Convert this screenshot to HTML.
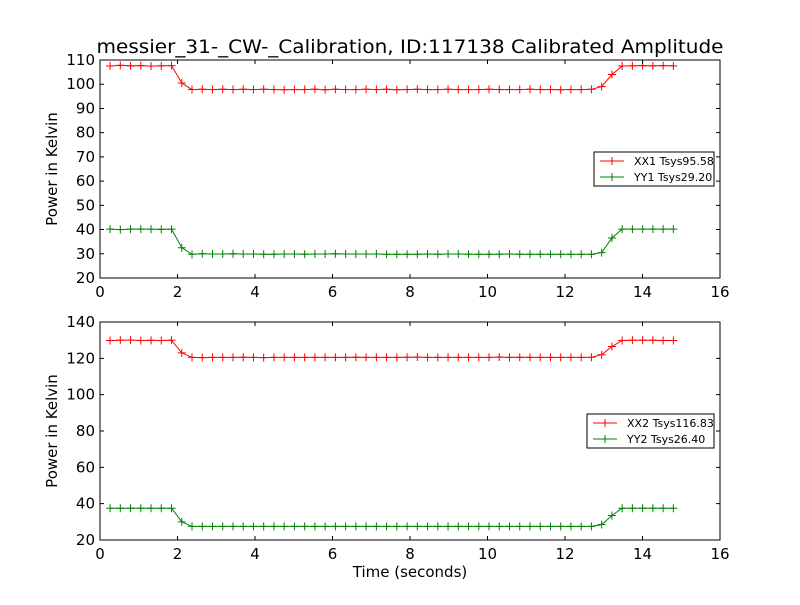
<!DOCTYPE html>
<html><head><meta charset="utf-8"><style>
body{margin:0;background:#fff;font-family:"Liberation Sans","DejaVu Sans",sans-serif}
svg text{font-family:"DejaVu Sans","Liberation Sans",sans-serif}
</style></head><body>
<svg id="chart" width="800" height="600" viewBox="0 0 800 600"></svg>
<script>
const times=[];
const xTicks=[0,2,4,6,8,10,12,14,16];
const yTicksTop=[20,30,40,50,60,70,80,90,100,110];
const yTicksBot=[20,40,60,80,100,120,140];
const xx1=[107.5,107.8,107.6,107.7,107.5,107.6,107.7,100.5,97.8,97.9,97.8,97.9,97.8,97.9,97.8,97.9,97.8,97.7,97.8,97.8,97.9,97.7,97.9,97.8,97.8,97.9,97.8,97.9,97.7,97.8,97.9,97.8,97.8,97.9,97.8,97.8,97.8,97.9,97.8,97.8,97.8,97.9,97.8,97.8,97.7,97.8,97.8,97.9,99.0,104.0,107.5,107.6,107.7,107.6,107.7,107.6];
const yy1=[40.2,40.0,40.2,40.2,40.2,40.1,40.2,32.5,29.8,30.0,29.9,29.9,30.0,29.9,29.9,29.8,29.8,29.9,29.9,29.8,29.9,29.9,30.0,29.9,29.9,29.9,29.9,29.8,29.8,29.8,29.8,29.9,29.8,29.9,29.9,29.8,29.8,29.8,29.8,29.9,29.8,29.8,29.8,29.8,29.8,29.8,29.8,29.8,30.5,36.5,40.2,40.2,40.2,40.2,40.2,40.2];
const xx2=[129.8,130.0,130.1,129.8,129.9,129.8,130.0,123.0,120.5,120.4,120.5,120.5,120.5,120.6,120.5,120.4,120.5,120.5,120.5,120.5,120.5,120.5,120.5,120.5,120.6,120.5,120.5,120.5,120.5,120.6,120.7,120.5,120.5,120.5,120.5,120.5,120.5,120.5,120.7,120.5,120.6,120.5,120.5,120.5,120.5,120.5,120.5,120.6,122.0,126.5,129.8,130.0,130.0,130.0,129.8,129.8];
const yy2=[37.5,37.5,37.5,37.5,37.5,37.5,37.5,30.0,27.5,27.5,27.5,27.5,27.5,27.5,27.5,27.5,27.5,27.5,27.5,27.5,27.5,27.5,27.5,27.5,27.5,27.5,27.5,27.5,27.5,27.5,27.5,27.5,27.5,27.5,27.5,27.5,27.5,27.5,27.5,27.5,27.5,27.5,27.5,27.5,27.5,27.5,27.5,27.5,28.5,33.5,37.5,37.5,37.5,37.5,37.5,37.5];
for(let k=0;k<xx1.length;k++)times.push(+(0.26+0.2643*k).toFixed(3));

const NS="http://www.w3.org/2000/svg";
const svg=document.getElementById('chart');
function mk(tag,attrs,parent){const e=document.createElementNS(NS,tag);for(const k in attrs)e.setAttribute(k,attrs[k]);(parent||svg).appendChild(e);return e;}
const X0=100,X1=720;
const xs=v=>X0+(v-0)/16*(X1-X0);

function panel(name,top,bot,ymin,ymax,yTicks,series,legend){
  const g=mk('g',{});
  
  
  const ys=v=>bot-(v-ymin)/(ymax-ymin)*(bot-top);
  series.forEach(s=>{
    const sg=mk('g',{},g);
    
    
    const pts=s.vals.map((v,i)=>xs(times[i]).toFixed(1)+','+ys(v).toFixed(1)).join(' ');
    mk('polyline',{points:pts,fill:'none',stroke:s.color,'stroke-width':1},sg);
    s.vals.forEach((v,i)=>{
      const x=xs(times[i]),y=ys(v);
      const m=mk('path',{d:`M${x-4},${y}H${x+4}M${x},${y-4}V${y+4}`,stroke:s.color,'stroke-width':1},sg);
      
      
    });
  });
  const fr=mk('rect',{x:X0,y:top,width:X1-X0,height:bot-top,fill:'none',stroke:'#000','stroke-width':1},g);
  
  
  xTicks.forEach(t=>{
    const x=xs(t);
    mk('path',{d:`M${x},${bot}v-4M${x},${top}v4`,stroke:'#000'},g);
    const tx=mk('text',{x:x,y:bot+19,'font-size':15,'text-anchor':'middle'},g);
    tx.textContent=t;
    
    
  });
  yTicks.forEach(t=>{
    const y=ys(t);
    mk('path',{d:`M${X0},${y}h4M${X1},${y}h-4`,stroke:'#000'},g);
    const tx=mk('text',{x:X0-5,y:y+5,'font-size':15,'text-anchor':'end'},g);
    tx.textContent=t;
    
    
  });
  const yl=mk('text',{x:57,y:(top+bot)/2,'font-size':15,'text-anchor':'middle',transform:`rotate(-90 57 ${(top+bot)/2})`},g);
  yl.textContent='Power in Kelvin';
  
  
  const lg=mk('g',{},g);
  
  
  mk('rect',{x:legend.x,y:legend.y,width:legend.w,height:34,fill:'#fff',stroke:'#000','stroke-width':1},lg);
  series.forEach((s,i)=>{
    const y=legend.y+9+i*16,x=legend.x+6;
    mk('path',{d:`M${x},${y}h24M${x+12},${y-4}v8`,stroke:s.color},lg);
    const t=mk('text',{x:x+34,y:y+4,'font-size':11},lg);
    t.textContent=s.label;
    
    
  });
}
panel('top-panel',60,278,20,110,yTicksTop,[{name:'xx1-series',vals:xx1,color:'#ff0000',label:'XX1 Tsys95.58'},{name:'yy1-series',vals:yy1,color:'#008000',label:'YY1 Tsys29.20'}],{x:594,y:152,w:120});
panel('bottom-panel',322,540,20,140,yTicksBot,[{name:'xx2-series',vals:xx2,color:'#ff0000',label:'XX2 Tsys116.83'},{name:'yy2-series',vals:yy2,color:'#008000',label:'YY2 Tsys26.40'}],{x:587,y:414,w:127});
const title=mk('text',{x:410,y:53,'font-size':19,'text-anchor':'middle',textLength:627,lengthAdjust:'spacingAndGlyphs'});
title.textContent='messier_31-_CW-_Calibration, ID:117138 Calibrated Amplitude';


const xl=mk('text',{x:410,y:577,'font-size':15,'text-anchor':'middle'});
xl.textContent='Time (seconds)';


</script>
</body></html>
